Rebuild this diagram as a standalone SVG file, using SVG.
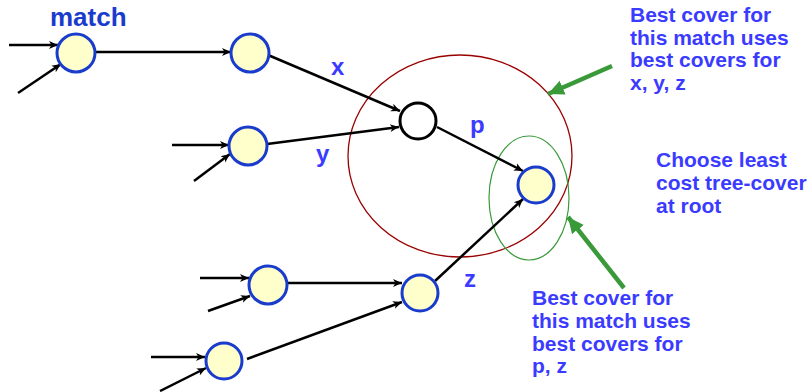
<svg xmlns="http://www.w3.org/2000/svg" width="812" height="392" viewBox="0 0 812 392">
<style>
.node{fill:#ffffcc;stroke:#1a3ccc;stroke-width:3}
.op{fill:#ffffff;stroke:#000000;stroke-width:3}
.edge{stroke:#000;stroke-width:2.5;fill:none;marker-end:url(#ah)}
.lbl{font-family:"Liberation Sans",Arial,sans-serif;font-weight:bold;font-size:24px;fill:#3b3bff}
.note{font-family:"Liberation Sans",Arial,sans-serif;font-weight:bold;font-size:21px;fill:#3b3bff}
.garrow{stroke:#3a9a3a;stroke-width:4.5;fill:none;marker-end:url(#gh)}
</style>
<defs>
<marker id="ah" markerWidth="10" markerHeight="10" refX="9" refY="5" orient="auto" markerUnits="userSpaceOnUse">
<path d="M0,1 L9,5 L0,9 L2.5,5 Z" fill="#000"/>
</marker>
<marker id="gh" markerWidth="18" markerHeight="18" refX="16" refY="9" orient="auto" markerUnits="userSpaceOnUse">
<path d="M0,1.5 L16,9 L0,16.5 Z" fill="#3a9a3a"/>
</marker>
</defs>

<g id="covers">
<ellipse cx="460" cy="156" rx="112" ry="101" fill="none" stroke="#990000" stroke-width="1.3"/>
<ellipse cx="529" cy="198" rx="40" ry="62" fill="none" stroke="#3a9a3a" stroke-width="1.2"/>
</g>

<g id="connectors">
<line class="edge" x1="9" y1="45" x2="58" y2="45"/>
<line class="edge" x1="18" y1="93" x2="61" y2="64"/>
<line class="edge" x1="95" y1="52" x2="231" y2="52"/>
<line class="edge" x1="268" y1="55" x2="400" y2="111"/>
<line class="edge" x1="172" y1="145" x2="229" y2="145"/>
<line class="edge" x1="194" y1="181" x2="230" y2="154"/>
<line class="edge" x1="267" y1="144" x2="399" y2="127"/>
<line class="edge" x1="437" y1="127" x2="523" y2="171"/>
<line class="edge" x1="435" y1="281" x2="523" y2="199"/>
<line class="edge" x1="200" y1="278" x2="249" y2="278"/>
<line class="edge" x1="208" y1="311" x2="250" y2="296"/>
<line class="edge" x1="287" y1="283" x2="402" y2="283"/>
<line class="edge" x1="151" y1="357" x2="205" y2="357"/>
<line class="edge" x1="160" y1="391" x2="206" y2="368"/>
<line class="edge" x1="247" y1="359" x2="402" y2="302"/>
</g>

<g id="n-match"><circle class="node" cx="76" cy="53" r="19"/></g>
<g id="n2"><circle class="node" cx="250" cy="53" r="19"/></g>
<g id="n3"><circle class="node" cx="248" cy="146" r="19"/></g>
<g id="n-op"><circle class="op" cx="418" cy="121" r="18"/></g>
<g id="n-root"><circle class="node" cx="536" cy="185" r="18"/></g>
<g id="n6"><circle class="node" cx="268" cy="285" r="19"/></g>
<g id="n7"><circle class="node" cx="420" cy="293" r="18"/></g>
<g id="n8"><circle class="node" cx="224" cy="361" r="18"/></g>

<g id="labels">
<text x="50" y="26" font-family="Liberation Sans,Arial,sans-serif" font-weight="bold" font-size="26" fill="#1a3ccc">match</text>
<text class="lbl" x="331" y="75">x</text>
<text class="lbl" x="316" y="162">y</text>
<text class="lbl" x="470" y="133">p</text>
<text class="lbl" x="464" y="287">z</text>
</g>

<g id="note-top">
<line class="garrow" x1="612" y1="66" x2="548" y2="94"/>
<text class="note" x="630" y="22">Best cover for</text>
<text class="note" x="630" y="44.5">this match uses</text>
<text class="note" x="630" y="67">best covers for</text>
<text class="note" x="630" y="89.5">x, y, z</text>
</g>

<g id="note-root">
<text class="note" x="656" y="167">Choose least</text>
<text class="note" x="656" y="190">cost tree-cover</text>
<text class="note" x="656" y="213">at root</text>
</g>

<g id="note-bottom">
<line class="garrow" x1="624" y1="288" x2="568" y2="217"/>
<text class="note" x="532" y="305">Best cover for</text>
<text class="note" x="532" y="328">this match uses</text>
<text class="note" x="532" y="351">best covers for</text>
<text class="note" x="532" y="373">p, z</text>
</g>
</svg>
